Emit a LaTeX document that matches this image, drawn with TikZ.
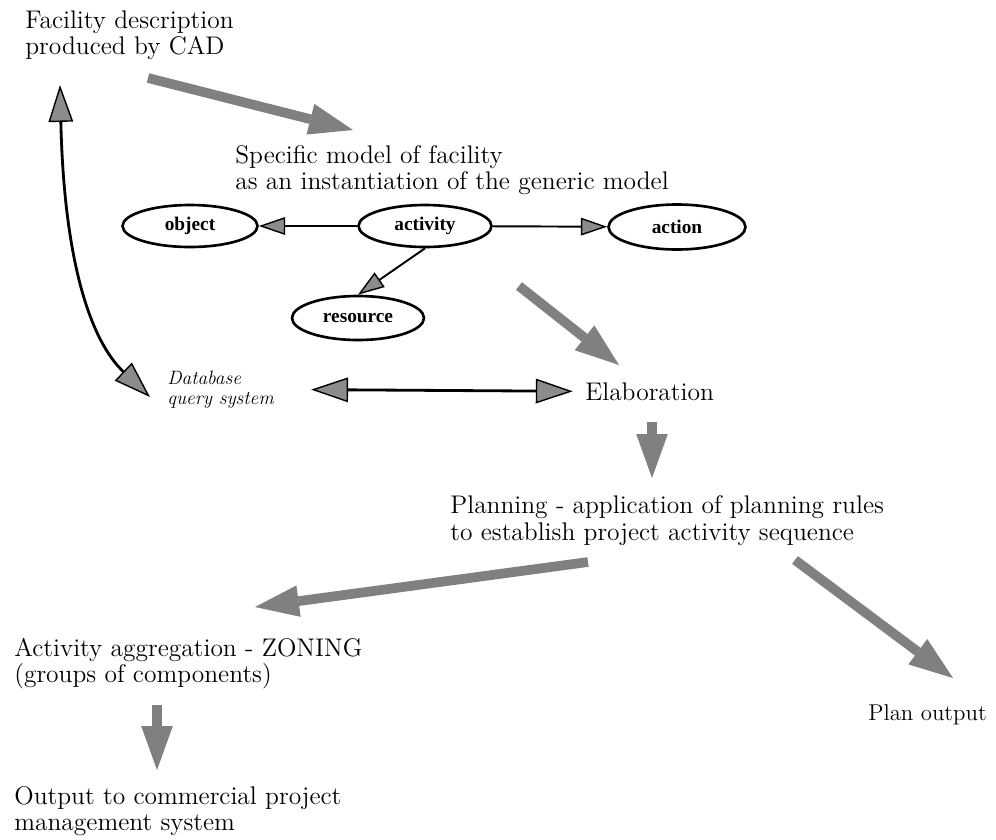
\documentclass[tikz,border=0pt]{standalone}
\usepackage{fontspec}
\newfontfamily\labfont{Liberation Serif}
\usetikzlibrary{arrows.meta,shapes.geometric}
\begin{document}
\begin{tikzpicture}[x=0.02cm,y=-0.02cm,
    txt/.style={anchor=base west,align=left,inner sep=0pt,font=\fontsize{14.5}{14.3}\selectfont},
    ell/.style={draw,ellipse,line width=1.5pt,inner sep=0pt,font=\labfont\bfseries\fontsize{11}{11}\selectfont},
    fat/.style={draw=black!50,line width=5.5pt,-{Triangle[length=25pt,width=18pt,line width=0pt]}},
    linkarrow/.style={line width=1.1pt,-{Triangle[length=15pt,width=10pt,fill=black!45,line width=0.8pt]}},
    dblarrow/.style={line width=1.6pt,{Triangle[length=21pt,width=14pt,fill=black!45,line width=0.8pt]}-{Triangle[length=21pt,width=14pt,fill=black!45,line width=0.8pt]}}]
    \useasboundingbox (0,0) rectangle (996,839);
    \node[txt] (fac) at (25,54) {Facility description\\produced by CAD};
    \node[txt] (spec) at (235,189) {Specific model of facility\\as an instantiation of the generic model};
    \node[ell,minimum width=2.7cm,minimum height=0.84cm] (object) at (190,226) {object};
    \node[ell,minimum width=2.66cm,minimum height=0.84cm] (activity) at (425,226) {activity};
    \node[ell,minimum width=2.74cm,minimum height=0.9cm] (action) at (677,227) {action};
    \node[ell,minimum width=2.64cm,minimum height=0.88cm] (resource) at (358,318) {resource};
    \node[txt,font=\fontsize{11}{11}\selectfont\itshape] (dbq) at (167,404) {Database\\query system};
    \node[txt] (elab) at (585,400) {Elaboration};
    \node[txt,font=\fontsize{14.5}{15}\selectfont] (plan) at (450,540) {Planning - application of planning rules\\to establish project activity sequence};
    \node[txt] (agg) at (14,682) {Activity aggregation - ZONING\\(groups of components)};
    \node[txt,font=\fontsize{13}{13}\selectfont] (planout) at (868,720) {Plan output};
    \node[txt] (outp) at (14,830) {Output to commercial project\\management system};
    \draw[linkarrow] (activity) -- (object);
    \draw[linkarrow] (activity) -- (action);
    \draw[linkarrow] (activity.south) -- (resource.north);
    \coordinate (d1a) at (60,85);
    \coordinate (d1b) at (150,397);
    \draw[dblarrow] (d1a) .. controls (64,260) and (90,340) .. (d1b);
    \draw[dblarrow] ([xshift=21pt]dbq.east) -- ([xshift=-7pt]elab.west);
    \coordinate (g1a) at (148,78);
    \coordinate (g1b) at (353,130);
    \coordinate (g2a) at (519,286);
    \coordinate (g2b) at (619,365);
    \coordinate (g3a) at (652,422);
    \coordinate (g3b) at (652,478);
    \coordinate (g4a) at (588,562);
    \coordinate (g4b) at (255,607);
    \coordinate (g5a) at (795,560);
    \coordinate (g5b) at (953,678);
    \coordinate (g6a) at (157,705);
    \coordinate (g6b) at (157,770);
    \draw[fat] (g1a) -- (g1b);
    \draw[fat] (g2a) -- (g2b);
    \draw[fat] (g3a) -- (g3b);
    \draw[fat] (g4a) -- (g4b);
    \draw[fat] (g5a) -- (g5b);
    \draw[fat] (g6a) -- (g6b);
\end{tikzpicture}
\end{document}
